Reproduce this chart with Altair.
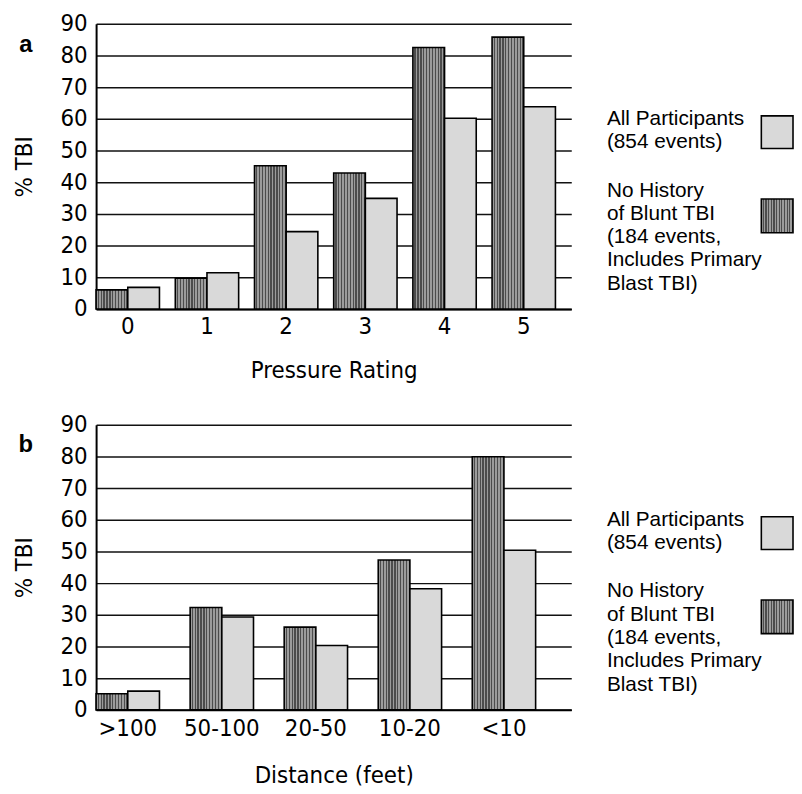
import altair as alt
import pandas as pd

# ---- data ----
DARK = "No History of Blunt TBI (184 events, Includes Primary Blast TBI)"
LIGHT = "All Participants (854 events)"
series_order = [DARK, LIGHT]

pressure_cats = ["0", "1", "2", "3", "4", "5"]
pressure_no_history = [6.0, 9.7, 45.2, 42.9, 82.5, 85.8]
pressure_all = [6.8, 11.4, 24.4, 34.9, 60.2, 63.8]

distance_cats = [">100", "50-100", "20-50", "10-20", "<10"]
distance_no_history = [5.1, 32.3, 26.1, 47.3, 79.9]
distance_all = [5.9, 29.3, 20.3, 38.2, 50.4]

y_ticks = [0, 10, 20, 30, 40, 50, 60, 70, 80, 90]

legend_all_lines = ["All Participants", "(854 events)"]
legend_dark_lines = ["No History", "of Blunt TBI", "(184 events,", "Includes Primary", "Blast TBI)"]

# ---- styles ----
AX_FONT = "DejaVu Sans Condensed, DejaVu Sans"
LEG_FONT = "Liberation Sans, Arial"


def stripes(n, c1, c2, frac=0.55):
    stops = []
    for i in range(n):
        a = i / n
        m = (i + frac) / n
        b = (i + 1) / n
        stops += [
            {"offset": a, "color": c1},
            {"offset": m, "color": c1},
            {"offset": m, "color": c2},
            {"offset": b, "color": c2},
        ]
    return {"gradient": "linear", "x1": 0, "y1": 0, "x2": 1, "y2": 0, "stops": stops}


DARK_FILL = stripes(11, "#9c9c9c", "#4c4c4c")
LIGHT_FILL = "#d9d9d9"


def panel(cats, dark_vals, light_vals, letter, xtitle, pad_inner, pad_outer, label_pad, title_y):
    df = pd.DataFrame(
        {
            "cat": cats * 2,
            "series": [DARK] * len(cats) + [LIGHT] * len(cats),
            "value": dark_vals + light_vals,
        }
    )
    x = alt.X(
        "cat:N",
        sort=cats,
        scale=alt.Scale(paddingInner=pad_inner, paddingOuter=pad_outer, align=0),
        axis=alt.Axis(
            title=xtitle,
            labelAngle=0,
            ticks=False,
            tickSize=0,
            domainColor="black",
            domainWidth=2,
            labelFont=AX_FONT,
            labelFontSize=24,
            labelColor="black",
            labelBaseline="alphabetic",
            labelPadding=label_pad,
            titleFont=AX_FONT,
            titleFontSize=24,
            titleFontWeight="normal",
            titleColor="black",
            titleBaseline="alphabetic",
            titleY=title_y,
            titleX=240,
            titleAlign="center",
        ),
    )
    y = alt.Y(
        "value:Q",
        scale=alt.Scale(domain=[0, 90], nice=False),
        axis=alt.Axis(
            title="% TBI",
            values=y_ticks,
            grid=True,
            gridColor="#111111",
            gridWidth=1.5,
            gridOpacity=1,
            ticks=False,
            tickSize=0,
            domainColor="black",
            domainWidth=2,
            labelFont=AX_FONT,
            labelFontSize=24,
            labelColor="black",
            labelPadding=9,
            titleFont=AX_FONT,
            titleFontSize=24,
            titleFontWeight="normal",
            titleColor="black",
            titleAngle=270,
            titleX=-72,
            titleY=144,
            titleAlign="center",
            titleBaseline="middle",
        ),
    )
    xoff = alt.XOffset("series:N", scale=alt.Scale(domain=series_order))

    base = alt.Chart(df)
    dark = base.transform_filter(alt.datum.series == DARK).mark_bar(
        fill=DARK_FILL, stroke="black", strokeWidth=1.6
    ).encode(x=x, y=y, xOffset=xoff)
    light = base.transform_filter(alt.datum.series == LIGHT).mark_bar(
        fill=LIGHT_FILL, stroke="black", strokeWidth=1.6
    ).encode(x=x, y=y, xOffset=xoff)

    one = alt.Chart(pd.DataFrame({"k": [0]}))
    leg_text_all = one.mark_text(
        text=legend_all_lines, font=LEG_FONT, fontSize=21, align="left",
        baseline="alphabetic", lineHeight=23.5, color="black",
    ).encode(x=alt.value(516), y=alt.value(102))
    leg_text_dark = one.mark_text(
        text=legend_dark_lines, font=LEG_FONT, fontSize=21, align="left",
        baseline="alphabetic", lineHeight=23.5, color="black",
    ).encode(x=alt.value(516), y=alt.value(174.5))
    sw_all = one.mark_rect(fill=LIGHT_FILL, stroke="black", strokeWidth=1.6).encode(
        x=alt.value(672), x2=alt.value(704), y=alt.value(93), y2=alt.value(126)
    )
    sw_dark = one.mark_rect(fill=stripes(12, "#9c9c9c", "#4c4c4c"), stroke="black", strokeWidth=1.6).encode(
        x=alt.value(672), x2=alt.value(704), y=alt.value(177), y2=alt.value(211)
    )
    let = one.mark_text(
        text=letter, font=LEG_FONT, fontSize=24, fontWeight="bold", align="center",
        baseline="middle", color="black",
    ).encode(x=alt.value(-71), y=alt.value(21))

    return alt.layer(dark, light, sw_all, sw_dark, leg_text_all, leg_text_dark, let).properties(
        width=480, height=288
    )


pa = panel(pressure_cats, pressure_no_history, pressure_all, "a", "Pressure Rating",
           0.2, 0.1, 25, 69)
pb = panel(distance_cats, distance_no_history, distance_all, "b", "Distance (feet)",
           31 / 95, 0.1895, 26, 73)

chart = alt.vconcat(pa, pb, spacing=31).properties(
    padding={"left": 5, "top": 0, "right": 0, "bottom": 0},
    background="white",
).configure_view(stroke=None)

chart.save("out.html", embed_options={"renderer": "svg", "actions": False})
